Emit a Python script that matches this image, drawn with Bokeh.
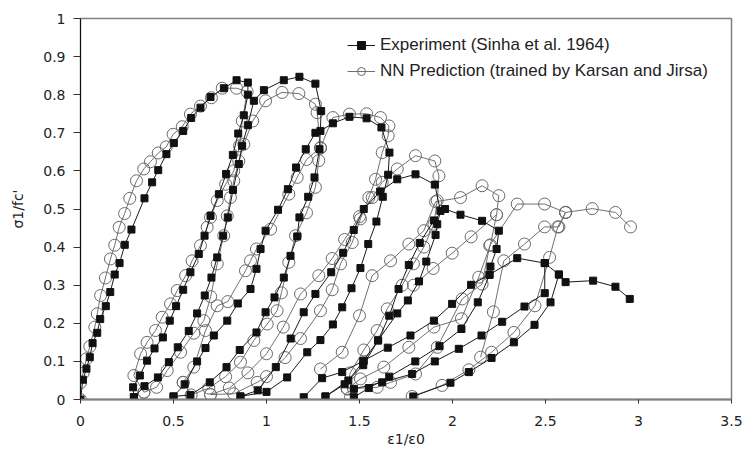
from bokeh.plotting import figure
from bokeh.models import Range1d, FixedTicker, Legend, LegendItem
from bokeh.embed import file_html
from bokeh.resources import INLINE

# ---------------- data ----------------
x_ticks = [0, 0.5, 1, 1.5, 2, 2.5, 3, 3.5]
x_tick_labels = ["0", "0.5", "1", "1.5", "2", "2.5", "3", "3.5"]
y_ticks = [0, 0.1, 0.2, 0.3, 0.4, 0.5, 0.6, 0.7, 0.8, 0.9, 1]
y_tick_labels = ["0", "0.1", "0.2", "0.3", "0.4", "0.5", "0.6", "0.7", "0.8", "0.9", "1"]

series_names = ["Experiment (Sinha et al. 1964)", "NN Prediction (trained by Karsan and Jirsa)"]

# Experiment: loading/unloading branches (strain ratio, stress ratio)
exp_x1 = [0, 0.013, 0.032, 0.05, 0.065, 0.09, 0.106, 0.136, 0.16, 0.184, 0.21, 0.238, 0.274, 0.344, 0.385, 0.418, 0.462, 0.502, 0.552, 0.595, 0.645, 0.699, 0.771, 0.839, 0.9,
          0.9, 0.878, 0.848, 0.819, 0.783, 0.744, 0.699, 0.667, 0.636, 0.591, 0.552, 0.514, 0.48, 0.443, 0.398, 0.358, 0.319, 0.283, 0.287]
exp_y1 = [0, 0.052, 0.081, 0.111, 0.148, 0.175, 0.211, 0.245, 0.282, 0.328, 0.358, 0.406, 0.446, 0.528, 0.57, 0.602, 0.644, 0.673, 0.705, 0.739, 0.766, 0.794, 0.817, 0.838, 0.832,
          0.80, 0.746, 0.698, 0.642, 0.592, 0.539, 0.482, 0.43, 0.382, 0.334, 0.288, 0.245, 0.207, 0.163, 0.134, 0.102, 0.063, 0.032, 0.006]
exp_x2 = [0.287, 0.344, 0.416, 0.475, 0.523, 0.582, 0.627, 0.668, 0.704, 0.735, 0.767, 0.792, 0.82, 0.851, 0.869, 0.90, 0.932,
          0.986, 1.093, 1.177, 1.263, 1.294,
          1.285, 1.258, 1.224, 1.177, 1.165, 1.129, 1.093, 1.043, 0.995, 0.946, 0.856, 0.785, 0.695, 0.591, 0.5]
exp_y2 = [0.006, 0.035, 0.058, 0.098, 0.137, 0.18, 0.226, 0.273, 0.32, 0.373, 0.43, 0.478, 0.55, 0.618, 0.666, 0.72, 0.784,
          0.812, 0.838, 0.847, 0.829, 0.757,
          0.657, 0.583, 0.532, 0.478, 0.428, 0.377, 0.32, 0.268, 0.229, 0.176, 0.13, 0.085, 0.045, 0.012, 0.008]
exp_x3 = [0.5, 0.56, 0.627, 0.672, 0.717, 0.789, 0.846, 0.914, 0.946, 0.968, 0.995, 1.062, 1.115, 1.159, 1.211, 1.263, 1.29,
          1.357, 1.446, 1.538, 1.618, 1.661,
          1.654, 1.625, 1.591, 1.547, 1.505, 1.457, 1.407, 1.357, 1.29, 1.219, 1.111, 1.0, 0.86]
exp_y3 = [0.008, 0.04, 0.10, 0.135, 0.168, 0.207, 0.252, 0.29, 0.343, 0.395, 0.443, 0.498, 0.552, 0.609, 0.657, 0.70, 0.705,
          0.725, 0.742, 0.738, 0.714, 0.648,
          0.59, 0.532, 0.467, 0.408, 0.345, 0.292, 0.242, 0.197, 0.156, 0.124, 0.058, 0.02, 0.008]
exp_x4 = [0.86, 0.953, 1.05, 1.13, 1.2, 1.263, 1.348, 1.412, 1.469, 1.523, 1.611,
          1.703, 1.801, 1.905, 1.935,
          1.918, 1.909, 1.859, 1.82, 1.76, 1.703, 1.6, 1.52, 1.44, 1.317]
exp_y4 = [0.008, 0.024, 0.085, 0.16, 0.229, 0.277, 0.334, 0.385, 0.445, 0.5, 0.546,
          0.578, 0.591, 0.564, 0.495,
          0.46, 0.432, 0.362, 0.31, 0.26, 0.226, 0.155, 0.10, 0.05, 0.008]
exp_x5 = [1.317, 1.42, 1.52, 1.60, 1.66, 1.71, 1.765, 1.824, 1.90, 1.96,
          2.043, 2.159, 2.249,
          2.237, 2.204, 2.199, 2.136, 2.048, 1.93, 1.80, 1.66, 1.55, 1.47]
exp_y5 = [0.008, 0.04, 0.09, 0.155, 0.22, 0.29, 0.353, 0.411, 0.47, 0.50,
          0.485, 0.469, 0.443,
          0.395, 0.349, 0.327, 0.255, 0.185, 0.14, 0.10, 0.06, 0.03, 0.006]
exp_x6 = [1.2, 1.299, 1.407, 1.523, 1.652, 1.774, 1.9, 1.998, 2.1, 2.199, 2.348, 2.496, 2.572, 2.608, 2.756, 2.876, 2.953]
exp_y6 = [0.006, 0.056, 0.072, 0.102, 0.136, 0.168, 0.207, 0.251, 0.301, 0.328, 0.371, 0.358, 0.328, 0.308, 0.312, 0.296, 0.264]
exp_x7 = [2.572, 2.527, 2.441, 2.33, 2.21, 2.088, 1.989, 1.789]
exp_y7 = [0.328, 0.255, 0.196, 0.15, 0.109, 0.072, 0.044, 0.008]
exp_x8 = [1.47, 1.622, 1.783, 1.905, 2.034, 2.156, 2.267, 2.387, 2.496, 2.496]
exp_y8 = [0.028, 0.045, 0.067, 0.10, 0.133, 0.168, 0.204, 0.244, 0.279, 0.358]

# NN prediction branches
nn_x1 = [0, 0, 0.014, 0.032, 0.05, 0.077, 0.09, 0.108, 0.134, 0.161, 0.184, 0.208, 0.237, 0.265, 0.301, 0.34, 0.376, 0.418, 0.461, 0.498, 0.547, 0.591, 0.645, 0.704, 0.762, 0.839, 0.896,
         0.87, 0.855, 0.824, 0.78, 0.735, 0.699, 0.681, 0.645, 0.6, 0.565, 0.52, 0.484, 0.439, 0.403, 0.358, 0.323, 0.287, 0.341]
nn_y1 = [0, 0.044, 0.069, 0.107, 0.139, 0.19, 0.225, 0.273, 0.319, 0.369, 0.405, 0.452, 0.488, 0.528, 0.574, 0.605, 0.624, 0.647, 0.663, 0.696, 0.716, 0.749, 0.77, 0.792, 0.817, 0.817, 0.808,
         0.731, 0.666, 0.6, 0.565, 0.522, 0.478, 0.452, 0.404, 0.364, 0.325, 0.286, 0.251, 0.216, 0.181, 0.15, 0.12, 0.063, 0.019]
nn_x2 = [0.341, 0.409, 0.466, 0.538, 0.609, 0.663, 0.70, 0.735, 0.77, 0.789, 0.806, 0.824, 0.851, 0.878, 0.926,
         0.995, 1.084, 1.174, 1.263, 1.272, 1.29,
         1.281, 1.263, 1.215, 1.156, 1.12, 1.08, 1.057, 1.004, 0.932, 0.86, 0.78, 0.69, 0.595, 0.552]
nn_y2 = [0.019, 0.032, 0.076, 0.124, 0.174, 0.207, 0.27, 0.356, 0.43, 0.482, 0.53, 0.574, 0.626, 0.67, 0.731,
         0.784, 0.806, 0.803, 0.775, 0.753, 0.66,
         0.627, 0.557, 0.49, 0.43, 0.36, 0.28, 0.233, 0.198, 0.155, 0.098, 0.06, 0.03, 0.012, 0.045]
nn_x3 = [0.552, 0.609, 0.672, 0.735, 0.792, 0.887, 0.914, 0.946, 1.022, 1.12, 1.165, 1.215, 1.29,
         1.357, 1.446, 1.538, 1.613, 1.658, 1.654,
         1.622, 1.586, 1.55, 1.505, 1.461, 1.398, 1.353, 1.29, 1.183, 1.10, 1.0, 0.95, 0.824, 0.699]
nn_y3 = [0.045, 0.085, 0.181, 0.246, 0.257, 0.338, 0.364, 0.395, 0.447, 0.539, 0.583, 0.63, 0.661,
         0.74, 0.749, 0.75, 0.74, 0.718, 0.692,
         0.648, 0.578, 0.53, 0.474, 0.412, 0.356, 0.288, 0.233, 0.16, 0.11, 0.06, 0.045, 0.015, 0.013]
nn_x4 = [0.699, 0.80, 0.90, 1.0, 1.09, 1.183, 1.281, 1.353, 1.42, 1.50, 1.568, 1.622, 1.703,
         1.801, 1.905, 1.927,
         1.918, 1.9, 1.846, 1.79, 1.73, 1.649, 1.595, 1.523, 1.45, 1.434, 1.452]
nn_y4 = [0.013, 0.03, 0.07, 0.12, 0.19, 0.277, 0.325, 0.37, 0.42, 0.48, 0.53, 0.57, 0.605,
         0.64, 0.626, 0.587,
         0.522, 0.46, 0.40, 0.356, 0.30, 0.238, 0.181, 0.13, 0.07, 0.028, 0.006]
nn_x5 = [1.29, 1.407, 1.50, 1.568, 1.667, 1.765, 1.846, 1.909, 2.043, 2.159, 2.249, 2.237, 2.204, 2.141, 2.048, 1.9, 1.765, 1.631, 1.505, 1.434]
nn_y5 = [0.08, 0.124, 0.22, 0.325, 0.364, 0.408, 0.443, 0.519, 0.53, 0.561, 0.535, 0.485, 0.406, 0.321, 0.212, 0.19, 0.137, 0.085, 0.054, 0.028]
nn_x6 = [1.434, 1.595, 1.667, 1.801, 1.918, 2.052, 2.159, 2.2, 2.348, 2.495, 2.608, 2.751, 2.876, 2.957]
nn_y6 = [0.028, 0.032, 0.045, 0.067, 0.137, 0.264, 0.303, 0.404, 0.513, 0.513, 0.491, 0.501, 0.491, 0.453]
nn_x7 = [1.783, 1.944, 2.088, 2.21, 2.33, 2.443, 2.522, 2.566, 2.608]
nn_y7 = [0.008, 0.037, 0.078, 0.124, 0.176, 0.246, 0.373, 0.453, 0.491]
nn_x8 = [1.79, 1.896, 1.998, 2.1, 2.237]
nn_y8 = [0.30, 0.344, 0.384, 0.427, 0.485]
nn_x9 = [2.151, 2.22, 2.276, 2.387, 2.495, 2.572, 2.608]
nn_y9 = [0.111, 0.23, 0.364, 0.408, 0.453, 0.453, 0.491]

exp_xs = [exp_x1, exp_x2, exp_x3, exp_x4, exp_x5, exp_x6, exp_x7, exp_x8]
exp_ys = [exp_y1, exp_y2, exp_y3, exp_y4, exp_y5, exp_y6, exp_y7, exp_y8]
nn_xs = [nn_x1, nn_x2, nn_x3, nn_x4, nn_x5, nn_x6, nn_x7, nn_x8, nn_x9]
nn_ys = [nn_y1, nn_y2, nn_y3, nn_y4, nn_y5, nn_y6, nn_y7, nn_y8, nn_y9]

# ---------------- figure ----------------
p = figure(width=743, height=449, output_backend="svg", toolbar_location=None,
           x_range=Range1d(0, 3.5), y_range=Range1d(0, 1),
           min_border_left=80, min_border_right=12, min_border_top=18, min_border_bottom=50)
p.grid.visible = False
p.outline_line_color = "#808080"
p.outline_line_width = 1.5
p.background_fill_color = "white"
p.border_fill_color = "white"

TXT = "#222222"
for ax in (p.xaxis[0], p.yaxis[0]):
    ax.major_label_text_font = "DejaVu Sans"
    ax.major_label_text_font_size = "14px"
    ax.major_label_text_color = TXT
    ax.axis_label_text_font = "DejaVu Sans"
    ax.axis_label_text_font_size = "14px"
    ax.axis_label_text_font_style = "normal"
    ax.axis_label_text_color = TXT
    ax.minor_tick_line_color = None
    ax.major_tick_in = 0

p.xaxis.ticker = FixedTicker(ticks=x_ticks)
p.xaxis.major_label_overrides = dict(zip(x_ticks, x_tick_labels))
p.xaxis.axis_label = "ε1/ε0"
p.xaxis.axis_line_color = "#808080"
p.xaxis.axis_line_width = 2
p.xaxis.major_tick_line_color = "#333333"
p.xaxis.major_tick_out = 4
p.xaxis.major_label_standoff = 12
p.xaxis.axis_label_standoff = 2

p.yaxis.ticker = FixedTicker(ticks=y_ticks)
p.yaxis.major_label_overrides = dict(zip(y_ticks, y_tick_labels))
p.yaxis.axis_label = "σ1/fc'"
p.yaxis.axis_line_color = "#111111"
p.yaxis.axis_line_width = 1
p.yaxis.major_tick_line_color = "#333333"
p.yaxis.major_tick_out = 7
p.yaxis.major_label_standoff = 8
p.yaxis.axis_label_standoff = 14

nn_line = p.multi_line(xs=nn_xs, ys=nn_ys, line_color="#707070", line_width=1)
nn_pts = p.scatter([v for s in nn_xs for v in s], [v for s in nn_ys for v in s],
                   marker="circle", size=12, fill_color=None, line_color="#6a6a6a", line_width=1)
exp_line = p.multi_line(xs=exp_xs, ys=exp_ys, line_color="#1a1a1a", line_width=1)
exp_pts = p.scatter([v for s in exp_xs for v in s], [v for s in exp_ys for v in s],
                    marker="square", size=7, fill_color="#111111", line_color="#111111")

legend = Legend(items=[LegendItem(label=series_names[0], renderers=[exp_line, exp_pts]),
                       LegendItem(label=series_names[1], renderers=[nn_line, nn_pts])],
                location=(267, 318), orientation="vertical")
legend.border_line_alpha = 0
legend.background_fill_alpha = 0
legend.padding = 0
legend.margin = 0
legend.spacing = 6
legend.glyph_width = 28
legend.glyph_height = 20
legend.label_height = 20
legend.label_standoff = 5
legend.label_text_font = "Liberation Sans"
legend.label_text_font_size = "17px"
legend.label_text_color = TXT
p.add_layout(legend)

open("out.html", "w").write(file_html(p, INLINE))
